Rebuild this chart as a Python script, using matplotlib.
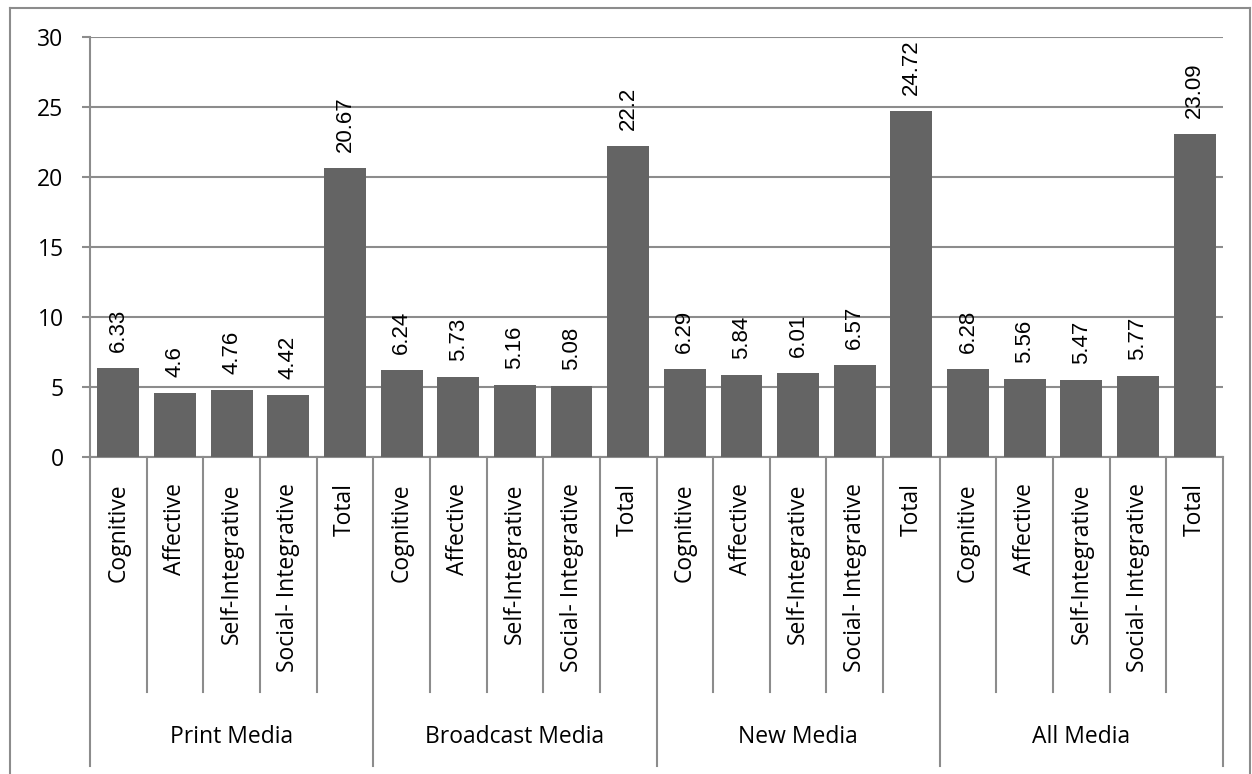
import matplotlib
matplotlib.use("Agg")
import matplotlib.pyplot as plt
from matplotlib.lines import Line2D
from matplotlib.transforms import blended_transform_factory

groups = ["Print Media", "Broadcast Media", "New Media", "All Media"]
categories = ["Cognitive", "Affective", "Self-Integrative", "Social- Integrative", "Total"]
print_media = [6.33, 4.60, 4.76, 4.42, 20.67]
broadcast_media = [6.24, 5.73, 5.16, 5.08, 22.20]
new_media = [6.29, 5.84, 6.01, 6.57, 24.72]
all_media = [6.28, 5.56, 5.47, 5.77, 23.09]
value_labels = ["6.33", "4.6", "4.76", "4.42", "20.67",
                "6.24", "5.73", "5.16", "5.08", "22.2",
                "6.29", "5.84", "6.01", "6.57", "24.72",
                "6.28", "5.56", "5.47", "5.77", "23.09"]
y_ticks = [0, 5, 10, 15, 20, 25, 30]

values = print_media + broadcast_media + new_media + all_media
n_cat = len(categories)
x = list(range(len(values)))

W, H = 1252, 774
fig = plt.figure(figsize=(W / 100, H / 100), dpi=100)
ax = fig.add_axes([90 / W, 1 - 457 / H, (1223 - 90) / W, 420 / H])

grid_col = "#8c8c8c"
bar_col = "#646464"
label_font = "Open Sans"
label_size = 16.5

ax.bar(x, values, width=0.74, color=bar_col, zorder=3)
ax.set_xlim(-0.5, len(values) - 0.5)
ax.set_ylim(0, 30)
ax.set_yticks(y_ticks)
ax.yaxis.grid(True, color=grid_col, linewidth=1.5, zorder=0)
for s in ["top", "right"]:
    ax.spines[s].set_visible(False)
for s in ["left", "bottom"]:
    ax.spines[s].set_color(grid_col)
    ax.spines[s].set_linewidth(1.5)
ax.set_xticks([])
ax.tick_params(axis="y", length=6, width=1.5, color=grid_col, pad=13,
               labelsize=label_size)
for t in ax.get_yticklabels():
    t.set_fontfamily(label_font)

# value labels above bars
for xi, v, lab in zip(x, values, value_labels):
    ax.annotate(lab, (xi, v), xytext=(0, 11.5), textcoords="offset points",
                rotation=90, ha="center", va="bottom", fontsize=16,
                family="Liberation Sans", zorder=4)

# hierarchical category axis below the plot
trans = blended_transform_factory(ax.transData, ax.transAxes)
inner_bottom = (457 - 692) / 420
outer_bottom = (457 - 766) / 420
for b in range(len(values) + 1):
    bx = b - 0.5
    yb = outer_bottom if b % n_cat == 0 else inner_bottom
    ax.add_line(Line2D([bx, bx], [0, yb], transform=trans, color=grid_col,
                       linewidth=1.5, clip_on=False))

for xi in x:
    ax.text(xi, (457 - 483) / 420, categories[xi % n_cat], transform=trans,
            rotation=90, ha="center", va="top", fontsize=label_size,
            family=label_font)

for gi, g in enumerate(groups):
    gx = gi * n_cat + (n_cat - 1) / 2
    ax.text(gx, (457 - 743) / 420, g, transform=trans, ha="center",
            va="baseline", fontsize=label_size, family=label_font)

# chart area border
fig.add_artist(Line2D([9.5 / W, 9.5 / W], [0, 1 - 7.5 / H], transform=fig.transFigure,
                      color=grid_col, linewidth=1.5))
fig.add_artist(Line2D([9.5 / W, 1250 / W], [1 - 7.5 / H, 1 - 7.5 / H],
                      transform=fig.transFigure, color=grid_col, linewidth=1.5))
fig.add_artist(Line2D([1250 / W, 1250 / W], [0, 1 - 7.5 / H], transform=fig.transFigure,
                      color=grid_col, linewidth=1.5))

fig.savefig("out.png", dpi=100)
